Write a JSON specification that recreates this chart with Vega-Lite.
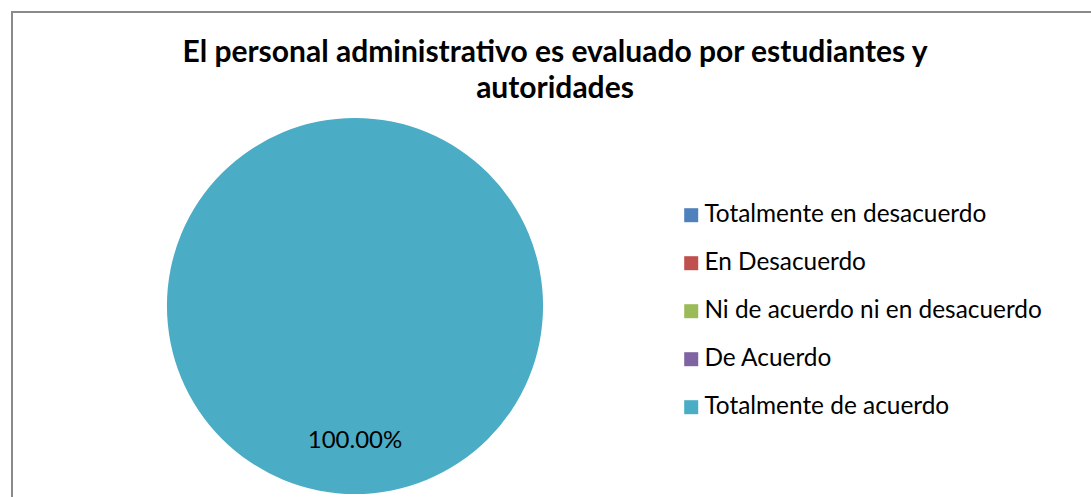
{
  "$schema": "https://vega.github.io/schema/vega-lite/v6.json",
  "autosize": {"type": "none"},
  "padding": {"left": 12, "top": 12, "right": 0, "bottom": 0},
  "width": 1090,
  "height": 500,
  "background": "white",
  "view": {"stroke": "#8a8a8a", "strokeWidth": 2},
  "config": {
    "font": "Lato"
  },
  "title": {
    "text": ["El personal administrativo es evaluado por estudiantes y", "autoridades"],
    "font": "Lato",
    "fontSize": 30,
    "fontWeight": "bold",
    "color": "#000000",
    "anchor": "middle",
    "frame": "group",
    "dx": -2,
    "lineHeight": 36,
    "baseline": "alphabetic",
    "offset": -116
  },
  "data": {
    "values": [
      {"respuesta": "Totalmente en desacuerdo", "porcentaje": 0},
      {"respuesta": "En Desacuerdo", "porcentaje": 0},
      {"respuesta": "Ni de acuerdo ni en desacuerdo", "porcentaje": 0},
      {"respuesta": "De Acuerdo", "porcentaje": 0},
      {"respuesta": "Totalmente de acuerdo", "porcentaje": 1}
    ]
  },
  "encoding": {
    "theta": {"field": "porcentaje", "type": "quantitative", "stack": true},
    "color": {
      "field": "respuesta",
      "type": "nominal",
      "scale": {
        "domain": ["Totalmente en desacuerdo", "En Desacuerdo", "Ni de acuerdo ni en desacuerdo", "De Acuerdo", "Totalmente de acuerdo"],
        "range": ["#4F81BD", "#C0504D", "#9BBB59", "#8064A2", "#4BACC6"]
      },
      "legend": {
        "title": null,
        "orient": "none",
        "legendX": 667,
        "legendY": 191,
        "symbolType": "square",
        "symbolSize": 196,
        "symbolStrokeWidth": 0,
        "labelFontSize": 24.4,
        "labelFont": "Lato",
        "labelColor": "#000000",
        "labelOffset": 1,
        "rowPadding": 23,
        "padding": 0,
        "labelLimit": 500
      }
    }
  },
  "layer": [
    {
      "mark": {"type": "arc", "x": 343, "y": 294, "outerRadius": 188}
    },
    {
      "transform": [{"filter": "datum.porcentaje > 0"}],
      "mark": {"type": "text", "x": 343, "y": 294, "radius": 135, "fontSize": 24, "font": "Lato", "color": "#000000", "baseline": "middle", "align": "center"},
      "encoding": {
        "text": {"field": "porcentaje", "type": "quantitative", "format": ".2%"},
        "color": {"value": "#000000"}
      }
    }
  ]
}
